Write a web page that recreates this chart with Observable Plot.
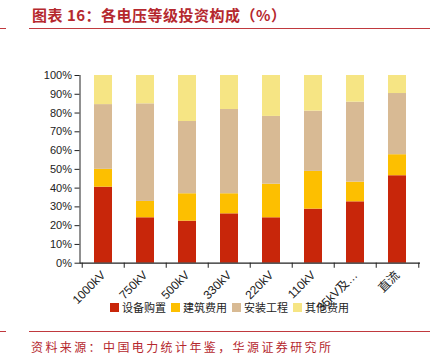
<!DOCTYPE html>
<html><head><meta charset="utf-8">
<script src="https://cdn.jsdelivr.net/npm/d3@7"></script>
<script src="https://cdn.jsdelivr.net/npm/@observablehq/plot@0.6"></script>
<style>
body{margin:0;background:#fff;}
#wrap{position:relative;width:436px;height:361px;overflow:hidden;font-family:"Liberation Sans",Arial,"Noto Sans CJK SC",sans-serif;background:#fff;}
#title{position:absolute;left:32px;top:5px;font-family:"Noto Sans CJK SC",sans-serif;font-weight:bold;font-size:15px;letter-spacing:0.5px;color:#b5282e;white-space:nowrap;line-height:20px;}
.line{position:absolute;height:1px;background:#c0393e;}
#chart{position:absolute;left:0;top:40px;}
#legend{position:absolute;left:110px;top:300px;display:flex;font-family:"Noto Sans CJK SC",sans-serif;font-size:11px;color:#222;line-height:14px;}
#legend .item{display:flex;align-items:center;margin-right:5px;}
#legend .sw{width:9px;height:9px;margin-right:3px;}
#source{position:absolute;left:31px;top:339px;font-family:"Noto Sans CJK SC",sans-serif;font-size:12px;letter-spacing:2.4px;color:#b5282e;white-space:nowrap;line-height:16px;}
</style></head><body>
<div id="wrap">
  <div id="title">图表 16：各电压等级投资构成（%）</div>
  <div class="line" style="top:28px;left:0;width:6px"></div>
  <div class="line" style="top:28px;left:29px;width:401px"></div>
  <div id="chart"></div>
  <div id="legend"></div>
  <div class="line" style="top:331px;left:0;width:6px"></div>
  <div class="line" style="top:331px;left:29px;width:401px"></div>
  <div id="source">资料来源：中国电力统计年鉴，华源证券研究所</div>
</div>
<script>
const categories = ["1000kV","750kV","500kV","330kV","220kV","110kV","35kV及…","直流"];
const series = ["设备购置","建筑费用","安装工程","其他费用"];
const equipment    = [40.5,24.2,22.4,26.3,24.2,28.8,32.7,46.6];
const construction = [9.5, 8.7,14.6,10.7,17.9,20.1,10.5,11.2];
const installation = [34.5,52.0,38.5,44.9,36.1,32.1,42.6,32.6];
const other        = [15.5,15.1,24.5,18.1,21.8,19.0,14.2,9.6];
const colors = ["#c8260a","#fdbf00","#d8ba94","#f6e584"];
const yTicks = [0,10,20,30,40,50,60,70,80,90,100];

const valuesBySeries = [equipment, construction, installation, other];
const data = [];
series.forEach((s, si) => categories.forEach((c, ci) => data.push({cat: c, series: s, value: valuesBySeries[si][ci]})));

const W = 436, H = 290, mL = 79.5, mR = 16, mT = 35, mB = 67.3;
const step = (W - mL - mR) / categories.length;
const font = '"Liberation Sans", Arial, "Noto Sans CJK SC", sans-serif';

const chart = Plot.plot({
  width: W, height: H,
  marginLeft: mL, marginRight: mR, marginTop: mT, marginBottom: mB,
  style: {fontFamily: font, fontSize: "11px", color: "#222", background: "transparent", overflow: "visible"},
  x: {domain: categories, paddingInner: 0.58, paddingOuter: 0.29, label: null},
  y: {domain: [0, 100], label: null},
  color: {domain: series, range: colors},
  marks: [
    Plot.barY(data, {x: "cat", y: "value", fill: "series", order: series}),
    Plot.axisY({ticks: yTicks, tickFormat: d => d + "%", tickSize: 5, tickPadding: 3, label: null, fontSize: 11}),
    Plot.axisX({tickSize: 0, tickPadding: 10, tickRotate: -45, label: null, fontSize: 12, fontFamily: font}),
    Plot.ruleY([0], {stroke: "#222", strokeWidth: 1.2}),
    Plot.frame({anchor: "left", stroke: "#222"}),
    Plot.ruleX(categories, {x: d => d, y1: 0, y2: -2.7, dx: -step / 2, stroke: "#222"}),
    Plot.ruleX(categories.slice(-1), {x: d => d, y1: 0, y2: -2.7, dx: step / 2, stroke: "#222"})
  ]
});
document.getElementById("chart").appendChild(chart);

const legend = document.getElementById("legend");
series.forEach((s, i) => {
  const it = document.createElement("div");
  it.className = "item";
  it.innerHTML = `<span class="sw" style="background:${colors[i]}"></span><span>${s}</span>`;
  legend.appendChild(it);
});
</script>
</body></html>
